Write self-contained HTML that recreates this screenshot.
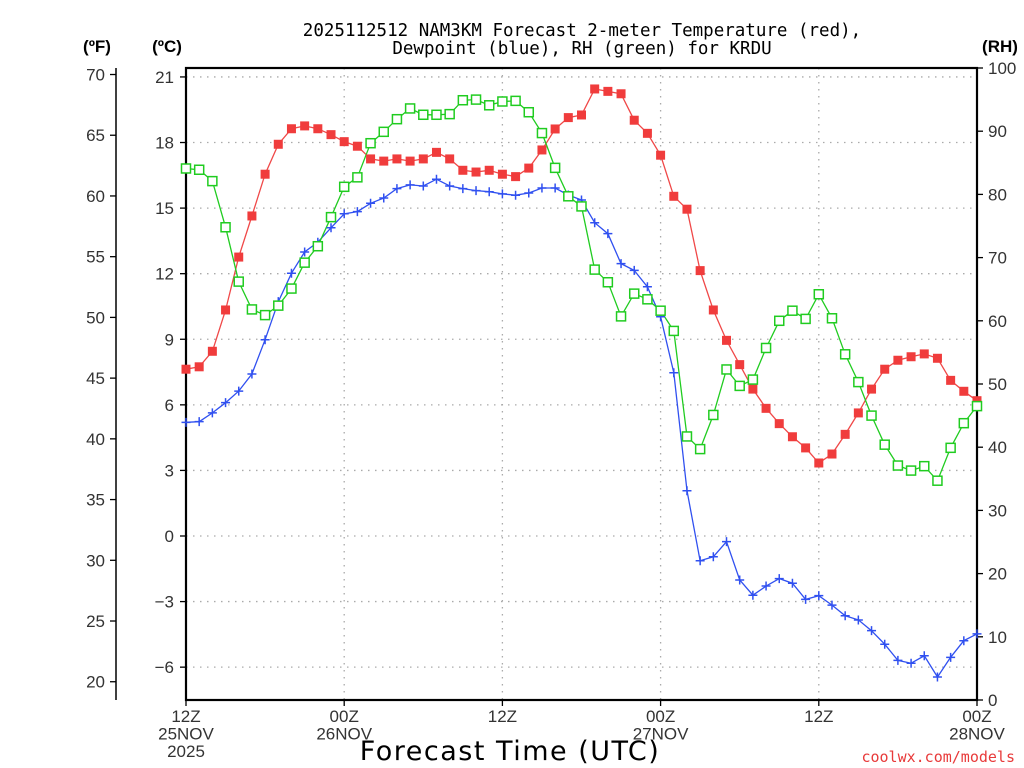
<!DOCTYPE html>
<html><head><meta charset="utf-8"><style>
html,body{margin:0;padding:0;background:#fff;width:1024px;height:768px;overflow:hidden}
svg{display:block}
</style></head><body>
<svg id="chart" width="1024" height="768" xmlns="http://www.w3.org/2000/svg" font-family="Liberation Sans, DejaVu Sans, sans-serif">
<g font-family="DejaVu Sans Mono, Liberation Mono, monospace" font-size="17.5" text-anchor="middle" fill="#000">
<text x="582" y="36">2025112512 NAM3KM Forecast 2-meter Temperature (red),</text>
<text x="582" y="54">Dewpoint (blue), RH (green) for KRDU</text>
</g>
<text x="97" y="52" font-size="17" font-weight="bold" text-anchor="middle">(ºF)</text>
<text x="167" y="52" font-size="17" font-weight="bold" text-anchor="middle">(ºC)</text>
<text x="1000" y="52" font-size="17" font-weight="bold" text-anchor="middle">(RH)</text>
<g id="grid"></g>
<g id="axes"></g>
<g id="series"></g>
<text x="510" y="760" font-size="27" font-family="DejaVu Sans, sans-serif" text-anchor="middle" letter-spacing="1.5">Forecast Time (UTC)</text>
<text x="1015" y="762" font-size="15" font-family="DejaVu Sans Mono, monospace" text-anchor="end" fill="#e83a3a">coolwx.com/models</text>
</svg>
<script>
const tempC=[7.63,7.74,8.45,10.34,12.76,14.64,16.55,17.92,18.63,18.76,18.63,18.36,18.04,17.83,17.25,17.15,17.25,17.15,17.25,17.55,17.25,16.73,16.65,16.73,16.55,16.44,16.83,17.66,18.62,19.14,19.26,20.45,20.34,20.23,19.02,18.42,17.42,15.54,14.95,12.14,10.34,8.95,7.84,6.72,5.84,5.14,4.54,4.03,3.34,3.75,4.65,5.63,6.72,7.63,8.04,8.2,8.33,8.13,7.12,6.62,6.19];
const dewC=[5.2,5.23,5.63,6.1,6.63,7.41,8.98,10.72,12.02,12.99,13.44,14.1,14.74,14.84,15.22,15.46,15.89,16.06,16.01,16.32,16.01,15.89,15.8,15.75,15.65,15.59,15.69,15.92,15.92,15.6,15.37,14.33,13.83,12.46,12.15,11.4,10.03,7.47,2.07,-1.13,-0.95,-0.26,-2.01,-2.71,-2.29,-1.95,-2.16,-2.9,-2.73,-3.16,-3.65,-3.84,-4.33,-4.95,-5.69,-5.82,-5.48,-6.45,-5.55,-4.79,-4.48];
const rh=[84.1,83.9,82.1,74.8,66.2,61.8,60.9,62.4,65.1,69.2,71.8,76.4,81.2,82.7,88.1,89.9,91.9,93.6,92.6,92.6,92.7,94.9,95.0,94.1,94.7,94.8,93.0,89.7,84.2,79.7,78.1,68.1,66.1,60.7,64.3,63.4,61.6,58.4,41.7,39.7,45.1,52.3,49.7,50.7,55.7,60.0,61.6,60.3,64.2,60.4,54.7,50.3,45.0,40.4,37.1,36.3,37.0,34.7,39.9,43.8,46.5];
const cTicks=[21,18,15,12,9,6,3,0,-3,-6];
const fTicks=[70,65,60,55,50,45,40,35,30,25,20];
const rhTicks=[100,90,80,70,60,50,40,30,20,10,0];
const xTickHours=[0,12,24,36,48,60];
const xTickLabels=[["12Z","25NOV","2025"],["00Z","26NOV"],["12Z"],["00Z","27NOV"],["12Z"],["00Z","28NOV"]];

const L=186,R=977,T=68,B=700;
const xS=h=>L+(R-L)*h/60;
const cS=c=>536-c*21.86;
const fS=f=>cS((f-32)*5/9);
const rS=r=>B-(B-T)*r/100;
const NS="http://www.w3.org/2000/svg";
function mk(tag,attrs,parent){const e=document.createElementNS(NS,tag);for(const k in attrs)e.setAttribute(k,attrs[k]);parent.appendChild(e);return e;}
const grid=document.getElementById('grid'),axes=document.getElementById('axes'),series=document.getElementById('series');

cTicks.forEach(c=>{
 const y=cS(c);
 const g=mk('line',{x1:L,x2:R,y1:y,y2:y,stroke:'#aaa','stroke-width':1.3,'stroke-dasharray':'1.5 5.5'},grid);
 
 
 const t=mk('line',{x1:L-6,x2:L,y1:y,y2:y,stroke:'#000','stroke-width':1.3},axes);
 
 
 const lb=mk('text',{x:L-12,y:y+6,'font-size':17,'text-anchor':'end',fill:'#333'},axes);
 lb.textContent=c<0?'\u2212'+(-c):String(c);
 
 
});
xTickHours.forEach((h,i)=>{
 const x=xS(h);
 if(h>0&&h<60){const g=mk('line',{x1:x,x2:x,y1:T,y2:B,stroke:'#aaa','stroke-width':1.3,'stroke-dasharray':'1.5 5.5'},grid);
 
 }
 const t=mk('line',{x1:x,x2:x,y1:B,y2:B+6,stroke:'#000','stroke-width':1.3},axes);
 
 
 xTickLabels[i].forEach((s,j)=>{
  const lb=mk('text',{x:x,y:722+j*17.5,'font-size':17,'text-anchor':'middle',fill:'#333'},axes);
  lb.textContent=s;
  
  
 });
});
const fl=mk('line',{x1:116,x2:116,y1:68,y2:700,stroke:'#000','stroke-width':1.5},axes);


fTicks.forEach(f=>{
 const y=fS(f);
 const t=mk('line',{x1:110,x2:116,y1:y,y2:y,stroke:'#000','stroke-width':1.3},axes);
 
 
 const lb=mk('text',{x:105,y:y+6,'font-size':17,'text-anchor':'end',fill:'#333'},axes);
 lb.textContent=String(f);
 
 
});
rhTicks.forEach(r=>{
 const y=rS(r);
 const t=mk('line',{x1:R,x2:R+6,y1:y,y2:y,stroke:'#000','stroke-width':1.3},axes);
 
 
 const lb=mk('text',{x:R+11,y:y+6,'font-size':17,'text-anchor':'start',fill:'#333'},axes);
 lb.textContent=String(r);
 
 
});
const fr=mk('rect',{x:L,y:T,width:R-L,height:B-T,fill:'none',stroke:'#000','stroke-width':2.2},axes);



function drawLine(vals,scale,color,name){
 const pts=vals.map((v,i)=>xS(i).toFixed(1)+','+scale(v).toFixed(1)).join(' ');
 const p=mk('polyline',{points:pts,fill:'none',stroke:color,'stroke-width':1.3},series);
 
 
}
drawLine(tempC,cS,'#f04848','temperature');
drawLine(dewC,cS,'#3050f0','dewpoint');
drawLine(rh,rS,'#20cc20','rh');
tempC.forEach((v,i)=>{
 const m=mk('rect',{x:xS(i)-4.5,y:cS(v)-4.5,width:9,height:9,fill:'#f03c3c'},series);
 
 
});
dewC.forEach((v,i)=>{
 const x=xS(i),y=cS(v);
 const m=mk('path',{d:`M${x-4.5},${y}H${x+4.5}M${x},${y-4.5}V${y+4.5}`,stroke:'#3050f0','stroke-width':1.5,fill:'none'},series);
 
 
});
rh.forEach((v,i)=>{
 const m=mk('rect',{x:xS(i)-4.5,y:rS(v)-4.5,width:9,height:9,fill:'#fff',stroke:'#20cc20','stroke-width':1.5},series);
 
 
});
</script>
</body></html>
